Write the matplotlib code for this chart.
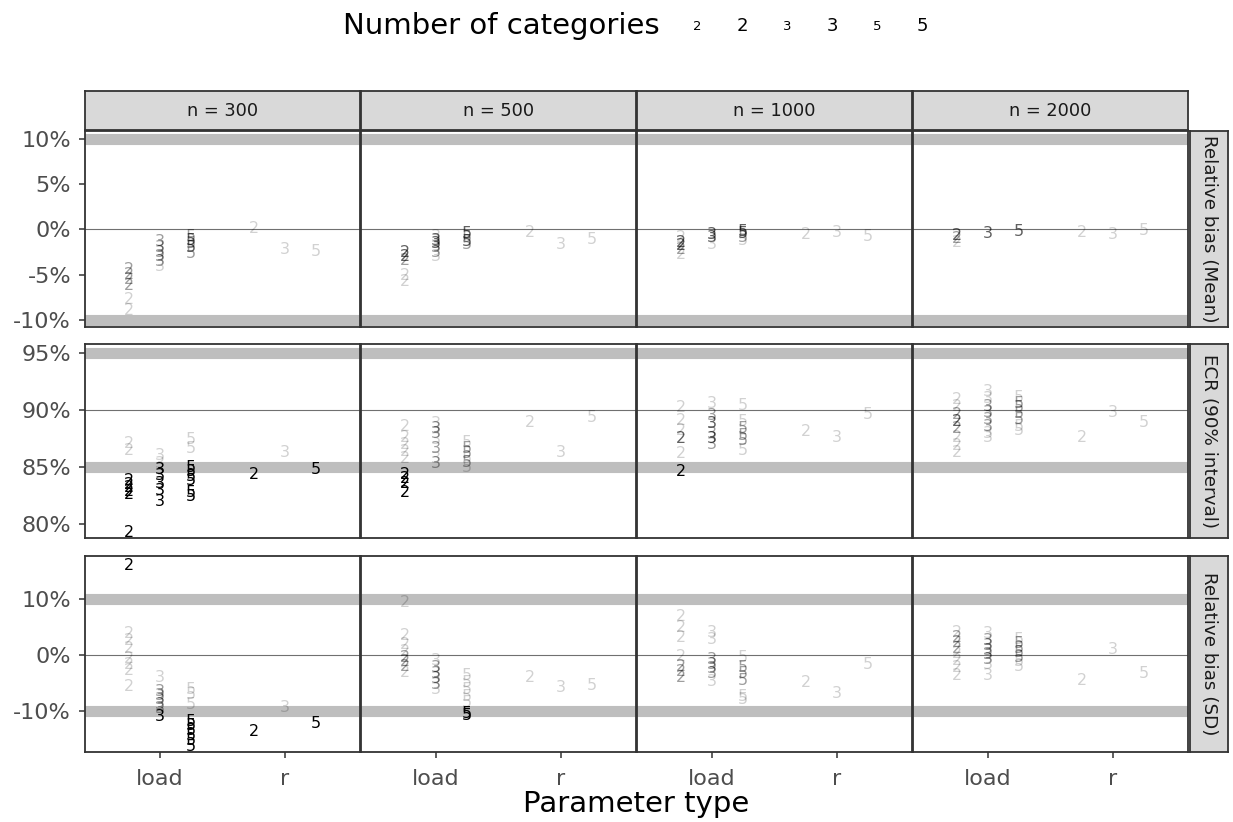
import matplotlib
matplotlib.use('Agg')
import matplotlib.pyplot as plt
from matplotlib.ticker import FuncFormatter

SAMPLE_SIZES = [300, 500, 1000, 2000]
PARAM_TYPES = ['load', 'r']
N_CATS = [2, 3, 5]
METRIC_LABELS = ['Relative bias (Mean)', 'ECR (90% interval)', 'Relative bias (SD)']
REF_BANDS = [[-10, 10], [85, 95], [-10, 10]]
REF_LINES = [0, 90, 0]
Y_TICKS = [[-10, -5, 0, 5, 10], [80, 85, 90, 95], [-10, 0, 10]]

# (n, parameter type, number of categories, value in %, shade level 0..3)
bias_mean = [
    (300, 'load', 2, -4.4, 1), (300, 'load', 2, -5.0, 1), (300, 'load', 2, -5.5, 1),
    (300, 'load', 2, -6.2, 1), (300, 'load', 2, -7.8, 0), (300, 'load', 2, -9.0, 0),
    (300, 'load', 3, -1.3, 1), (300, 'load', 3, -2.0, 1), (300, 'load', 3, -2.6, 1),
    (300, 'load', 3, -3.0, 1), (300, 'load', 3, -3.5, 1), (300, 'load', 3, -4.1, 0),
    (300, 'load', 5, -0.8, 1), (300, 'load', 5, -1.2, 2), (300, 'load', 5, -1.6, 1),
    (300, 'load', 5, -2.0, 2), (300, 'load', 5, -2.7, 1),
    (300, 'r', 2, 0.1, 0), (300, 'r', 3, -2.2, 0), (300, 'r', 5, -2.4, 0),
    (500, 'load', 2, -2.6, 2), (500, 'load', 2, -3.0, 2), (500, 'load', 2, -3.4, 1),
    (500, 'load', 2, -5.1, 0), (500, 'load', 2, -5.8, 0),
    (500, 'load', 3, -0.8, 0), (500, 'load', 3, -1.2, 2), (500, 'load', 3, -1.6, 2),
    (500, 'load', 3, -2.0, 1), (500, 'load', 3, -2.5, 1), (500, 'load', 3, -3.0, 0),
    (500, 'load', 5, -0.5, 2), (500, 'load', 5, -0.9, 1), (500, 'load', 5, -1.3, 2),
    (500, 'load', 5, -1.7, 1),
    (500, 'r', 2, -0.3, 0), (500, 'r', 3, -1.7, 0), (500, 'r', 5, -1.1, 0),
    (1000, 'load', 2, -0.9, 0), (1000, 'load', 2, -1.4, 2), (1000, 'load', 2, -1.8, 2),
    (1000, 'load', 2, -2.2, 1), (1000, 'load', 2, -2.8, 0),
    (1000, 'load', 3, -0.6, 2), (1000, 'load', 3, -0.9, 2), (1000, 'load', 3, -1.7, 0),
    (1000, 'load', 5, -0.2, 2), (1000, 'load', 5, -0.5, 2), (1000, 'load', 5, -0.9, 1),
    (1000, 'load', 5, -1.2, 0),
    (1000, 'r', 2, -0.6, 0), (1000, 'r', 3, -0.3, 0), (1000, 'r', 5, -0.8, 0),
    (2000, 'load', 2, -0.7, 2), (2000, 'load', 2, -1.0, 1), (2000, 'load', 2, -1.4, 0),
    (2000, 'load', 3, -0.4, 2), (2000, 'load', 5, -0.2, 2),
    (2000, 'r', 2, -0.3, 0), (2000, 'r', 3, -0.6, 0), (2000, 'r', 5, -0.1, 0),
]

ecr = [
    (300, 'load', 2, 87.1, 0), (300, 'load', 2, 86.5, 0), (300, 'load', 2, 83.8, 3),
    (300, 'load', 2, 83.5, 3), (300, 'load', 2, 83.2, 3), (300, 'load', 2, 82.9, 3),
    (300, 'load', 2, 82.6, 3), (300, 'load', 2, 79.3, 3),
    (300, 'load', 3, 86.0, 0), (300, 'load', 3, 85.3, 0), (300, 'load', 3, 84.8, 3),
    (300, 'load', 3, 84.3, 3), (300, 'load', 3, 83.6, 3), (300, 'load', 3, 83.0, 3),
    (300, 'load', 3, 82.0, 3),
    (300, 'load', 5, 87.4, 0), (300, 'load', 5, 86.6, 0), (300, 'load', 5, 85.0, 3),
    (300, 'load', 5, 84.6, 3), (300, 'load', 5, 84.2, 3), (300, 'load', 5, 83.8, 3),
    (300, 'load', 5, 82.8, 3), (300, 'load', 5, 82.4, 3),
    (300, 'r', 2, 84.4, 3), (300, 'r', 3, 86.3, 0), (300, 'r', 5, 84.8, 3),
    (500, 'load', 2, 88.6, 0), (500, 'load', 2, 87.6, 0), (500, 'load', 2, 87.0, 0),
    (500, 'load', 2, 86.4, 0), (500, 'load', 2, 85.8, 0), (500, 'load', 2, 84.4, 3),
    (500, 'load', 2, 84.0, 3), (500, 'load', 2, 83.6, 3), (500, 'load', 2, 82.8, 3),
    (500, 'load', 3, 88.8, 0), (500, 'load', 3, 88.4, 1), (500, 'load', 3, 88.0, 1),
    (500, 'load', 3, 87.4, 0), (500, 'load', 3, 86.6, 1), (500, 'load', 3, 85.8, 0),
    (500, 'load', 3, 85.3, 1),
    (500, 'load', 5, 87.2, 0), (500, 'load', 5, 86.6, 1), (500, 'load', 5, 86.2, 1),
    (500, 'load', 5, 85.8, 0), (500, 'load', 5, 85.4, 1), (500, 'load', 5, 85.0, 0),
    (500, 'r', 2, 88.9, 0), (500, 'r', 3, 86.3, 0), (500, 'r', 5, 89.4, 0),
    (1000, 'load', 2, 90.2, 0), (1000, 'load', 2, 89.1, 0), (1000, 'load', 2, 88.2, 0),
    (1000, 'load', 2, 87.5, 2), (1000, 'load', 2, 86.2, 0), (1000, 'load', 2, 84.6, 3),
    (1000, 'load', 3, 90.6, 0), (1000, 'load', 3, 89.5, 1), (1000, 'load', 3, 88.8, 2),
    (1000, 'load', 3, 88.0, 1), (1000, 'load', 3, 87.5, 2), (1000, 'load', 3, 87.0, 1),
    (1000, 'load', 5, 90.4, 0), (1000, 'load', 5, 89.0, 0), (1000, 'load', 5, 88.4, 1),
    (1000, 'load', 5, 87.8, 1), (1000, 'load', 5, 87.3, 1), (1000, 'load', 5, 86.5, 0),
    (1000, 'r', 2, 88.1, 0), (1000, 'r', 3, 87.6, 0), (1000, 'r', 5, 89.6, 0),
    (2000, 'load', 2, 90.9, 0), (2000, 'load', 2, 90.3, 0), (2000, 'load', 2, 89.6, 1),
    (2000, 'load', 2, 89.0, 2), (2000, 'load', 2, 88.4, 1), (2000, 'load', 2, 87.6, 0),
    (2000, 'load', 2, 86.9, 0), (2000, 'load', 2, 86.3, 0),
    (2000, 'load', 3, 91.6, 0), (2000, 'load', 3, 91.0, 0), (2000, 'load', 3, 90.3, 1),
    (2000, 'load', 3, 89.8, 1), (2000, 'load', 3, 89.2, 1), (2000, 'load', 3, 88.6, 1),
    (2000, 'load', 3, 88.0, 0), (2000, 'load', 3, 87.6, 0),
    (2000, 'load', 5, 91.1, 0), (2000, 'load', 5, 90.6, 1), (2000, 'load', 5, 90.2, 1),
    (2000, 'load', 5, 89.7, 1), (2000, 'load', 5, 89.2, 1), (2000, 'load', 5, 88.6, 0),
    (2000, 'load', 5, 88.2, 0),
    (2000, 'r', 2, 87.6, 0), (2000, 'r', 3, 89.8, 0), (2000, 'r', 5, 88.9, 0),
]

bias_sd = [
    (300, 'load', 2, 15.9, 3), (300, 'load', 2, 3.8, 0), (300, 'load', 2, 2.6, 0),
    (300, 'load', 2, 1.2, 0), (300, 'load', 2, -0.6, 0), (300, 'load', 2, -1.8, 0),
    (300, 'load', 2, -2.8, 0), (300, 'load', 2, -5.7, 0),
    (300, 'load', 3, -4.1, 0), (300, 'load', 3, -6.6, 1), (300, 'load', 3, -7.3, 1),
    (300, 'load', 3, -8.0, 1), (300, 'load', 3, -8.8, 1), (300, 'load', 3, -9.6, 1),
    (300, 'load', 3, -11.0, 3),
    (300, 'load', 5, -6.2, 0), (300, 'load', 5, -7.0, 0), (300, 'load', 5, -8.9, 0),
    (300, 'load', 5, -11.8, 3), (300, 'load', 5, -12.6, 3), (300, 'load', 5, -13.4, 3),
    (300, 'load', 5, -14.3, 3), (300, 'load', 5, -15.2, 3), (300, 'load', 5, -16.4, 3),
    (300, 'r', 2, -13.7, 3), (300, 'r', 3, -9.3, 0), (300, 'r', 5, -12.3, 3),
    (500, 'load', 2, 9.3, 0), (500, 'load', 2, 3.4, 0), (500, 'load', 2, 1.8, 0),
    (500, 'load', 2, 0.6, 0), (500, 'load', 2, -0.4, 1), (500, 'load', 2, -1.2, 1),
    (500, 'load', 2, -2.0, 1), (500, 'load', 2, -3.2, 0),
    (500, 'load', 3, -1.0, 0), (500, 'load', 3, -2.3, 1), (500, 'load', 3, -3.3, 1),
    (500, 'load', 3, -4.3, 1), (500, 'load', 3, -5.2, 1), (500, 'load', 3, -6.1, 0),
    (500, 'load', 5, -3.6, 0), (500, 'load', 5, -5.0, 0), (500, 'load', 5, -6.1, 0),
    (500, 'load', 5, -7.4, 0), (500, 'load', 5, -8.5, 0), (500, 'load', 5, -10.5, 3),
    (500, 'load', 5, -10.8, 3),
    (500, 'r', 2, -4.1, 0), (500, 'r', 3, -5.9, 0), (500, 'r', 5, -5.4, 0),
    (1000, 'load', 2, 6.8, 0), (1000, 'load', 2, 4.8, 0), (1000, 'load', 2, 3.0, 0),
    (1000, 'load', 2, -0.3, 0), (1000, 'load', 2, -2.1, 1), (1000, 'load', 2, -3.0, 1),
    (1000, 'load', 2, -4.1, 1),
    (1000, 'load', 3, 3.9, 0), (1000, 'load', 3, 2.7, 0), (1000, 'load', 3, -0.9, 1),
    (1000, 'load', 3, -1.7, 1), (1000, 'load', 3, -2.5, 1), (1000, 'load', 3, -3.4, 1),
    (1000, 'load', 3, -4.8, 0),
    (1000, 'load', 5, -0.5, 0), (1000, 'load', 5, -2.3, 1), (1000, 'load', 5, -3.3, 1),
    (1000, 'load', 5, -4.5, 1), (1000, 'load', 5, -7.5, 0), (1000, 'load', 5, -8.0, 0),
    (1000, 'r', 2, -5.0, 0), (1000, 'r', 3, -6.8, 0), (1000, 'r', 5, -1.8, 0),
    (2000, 'load', 2, 4.0, 0), (2000, 'load', 2, 3.0, 1), (2000, 'load', 2, 2.2, 1),
    (2000, 'load', 2, 1.2, 1), (2000, 'load', 2, 0.3, 0), (2000, 'load', 2, -1.0, 0),
    (2000, 'load', 2, -2.2, 0), (2000, 'load', 2, -3.6, 0),
    (2000, 'load', 3, 3.8, 0), (2000, 'load', 3, 2.6, 1), (2000, 'load', 3, 1.7, 1),
    (2000, 'load', 3, 0.8, 1), (2000, 'load', 3, 0.0, 1), (2000, 'load', 3, -0.8, 1),
    (2000, 'load', 3, -1.8, 0), (2000, 'load', 3, -3.6, 0),
    (2000, 'load', 5, 2.8, 0), (2000, 'load', 5, 2.0, 1), (2000, 'load', 5, 1.2, 1),
    (2000, 'load', 5, 0.4, 1), (2000, 'load', 5, -0.4, 1), (2000, 'load', 5, -1.2, 0),
    (2000, 'load', 5, -2.0, 0),
    (2000, 'r', 2, -4.6, 0), (2000, 'r', 3, 0.9, 0), (2000, 'r', 5, -3.4, 0),
]

METRICS = [bias_mean, ecr, bias_sd]
SHADE_ALPHA = {0: 0.18, 1: 0.38, 2: 0.62, 3: 1.0}

# layout in pixels
W, H = 1233, 822
COL_LEFT = [85, 361, 637, 913]
PANEL_W = 275
ROW_TOP = [131, 344, 556]
PANEL_H = [196, 194, 196]
Y_LIMS = [(-10.8, 10.9), (78.8, 95.8), (-17.3, 17.6)]
DODGE = 0.25

fig = plt.figure(figsize=(W / 100, H / 100), dpi=100)


def px_axes(left, top, width, height):
    return fig.add_axes([left / W, 1 - (top + height) / H, width / W, height / H])


def frame(ax, color='#333333', lw=1.3):
    for s in ax.spines.values():
        s.set_color(color)
        s.set_linewidth(lw)


pct = FuncFormatter(lambda v, pos: '{:.0f}%'.format(v))

for i, rows in enumerate(METRICS):
    for j, n in enumerate(SAMPLE_SIZES):
        ax = px_axes(COL_LEFT[j], ROW_TOP[i], PANEL_W, PANEL_H[i])
        ax.set_xlim(0.4, 2.6)
        ax.set_ylim(*Y_LIMS[i])
        for b in REF_BANDS[i]:
            ax.axhline(b, color='#BEBEBE', lw=8, zorder=1)
        ax.axhline(REF_LINES[i], color='#707070', lw=0.8, zorder=1)
        for nn, p, k, v, lvl in rows:
            if nn != n:
                continue
            x = PARAM_TYPES.index(p) + 1 + (N_CATS.index(k) - 1) * DODGE
            ax.text(x, v, str(k), ha='center', va='center', fontsize=11.5,
                    color='black', alpha=SHADE_ALPHA[lvl], zorder=3, clip_on=True)
        frame(ax)
        ax.tick_params(colors='#333333', labelcolor='#4D4D4D', length=4, width=1.1,
                       labelsize=16, pad=6)
        if j == 0:
            ax.set_yticks(Y_TICKS[i])
            ax.yaxis.set_major_formatter(pct)
        else:
            ax.set_yticks([])
        if i == 2:
            ax.set_xticks([1, 2])
            ax.set_xticklabels(PARAM_TYPES)
            ax.tick_params(axis='x', pad=8)
        else:
            ax.set_xticks([])

        if i == 0:
            st = px_axes(COL_LEFT[j], 91, PANEL_W, 39)
            st.set_facecolor('#D9D9D9')
            st.set_xticks([])
            st.set_yticks([])
            frame(st)
            st.text(0.5, 0.5, 'n = {}'.format(n), ha='center', va='center',
                    fontsize=12.8, color='#1A1A1A', transform=st.transAxes)
        if j == 3:
            st = px_axes(1190, ROW_TOP[i], 38, PANEL_H[i])
            st.set_facecolor('#D9D9D9')
            st.set_xticks([])
            st.set_yticks([])
            frame(st)
            st.text(0.5, 0.5, METRIC_LABELS[i], ha='center', va='center', rotation=-90,
                    fontsize=13.2, color='#1A1A1A', transform=st.transAxes)

fig.text((COL_LEFT[0] + COL_LEFT[3] + PANEL_W) / 2 / W, 1 - 804 / H, 'Parameter type',
         ha='center', va='center', fontsize=21)

# legend row
fig.text(343 / W, 1 - 26 / H, 'Number of categories', ha='left', va='center', fontsize=21)
key_x = [697, 742, 787, 832, 877, 922]
key_size = [9.5, 13, 9.5, 13, 9.5, 13]
for kx, ks, k in zip(key_x, key_size, [2, 2, 3, 3, 5, 5]):
    fig.text(kx / W, 1 - 26 / H, str(k), ha='center', va='center', fontsize=ks)

fig.savefig('out.png', dpi=100, facecolor='white')
